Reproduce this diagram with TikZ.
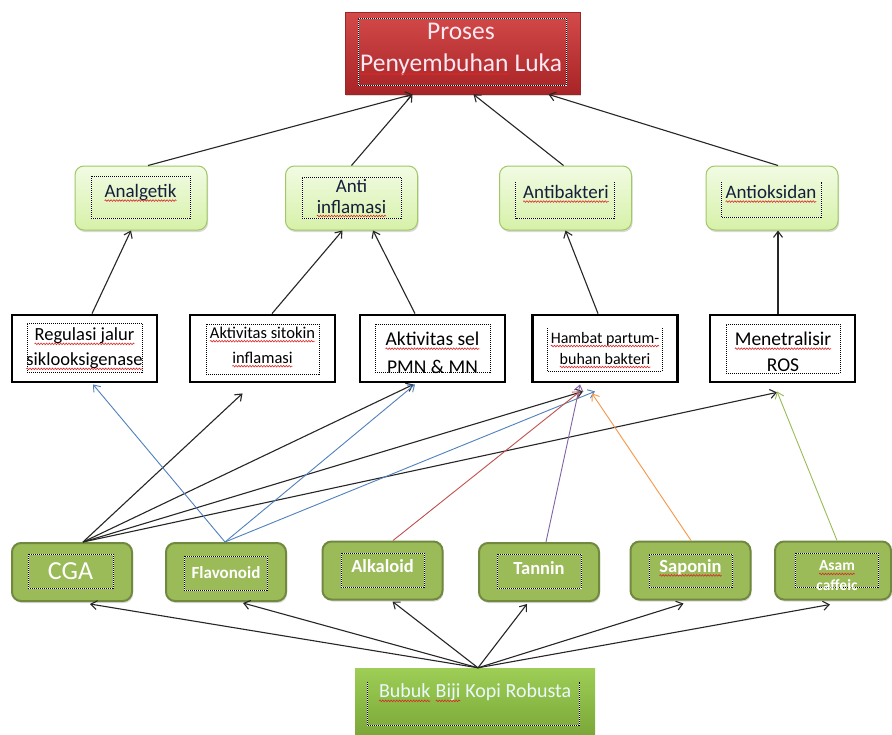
\documentclass[tikz,border=0pt]{standalone}
\usepackage{fontspec}
\setmainfont{Carlito}
\usetikzlibrary{arrows.meta,shadows,decorations.pathmorphing}
\definecolor{sqred}{RGB}{220,40,40}
\newcommand\sq[1]{\tikz[baseline=(w.base),x=1pt,y=1pt]{\node[inner sep=0pt,outer sep=0pt,anchor=base west] (w) {#1};\draw[sqred,line width=0.6pt,decorate,decoration={snake,amplitude=0.8pt,segment length=2.8pt}] ([yshift=-3pt]w.base west) -- ([yshift=-3pt]w.base east);}}
\definecolor{redtop}{RGB}{212,74,74}
\definecolor{redbot}{RGB}{168,36,38}
\definecolor{redline}{RGB}{150,40,40}
\definecolor{redtext}{RGB}{250,232,242}
\definecolor{lgtop}{RGB}{242,251,228}
\definecolor{lgbot}{RGB}{214,241,168}
\definecolor{lgline}{RGB}{160,200,100}
\definecolor{navy}{RGB}{20,30,60}
\definecolor{olfill}{RGB}{155,187,89}
\definecolor{olline}{RGB}{113,137,63}
\definecolor{butop}{RGB}{158,206,86}
\definecolor{bubot}{RGB}{118,162,52}
\definecolor{cblue}{RGB}{79,129,189}
\definecolor{cred}{RGB}{192,80,77}
\definecolor{cpurple}{RGB}{128,100,162}
\definecolor{corange}{RGB}{247,150,70}
\definecolor{cgreen}{RGB}{155,187,89}
\begin{document}
\begin{tikzpicture}[x=1pt,y=-1pt,
  >={Straight Barb[length=6pt,width=9pt]},
  softshadow/.style={drop shadow={shadow xshift=1pt,shadow yshift=-2pt,opacity=0.3}},
  redbox/.style={draw=redline,line width=0.8pt,top color=redtop,bottom color=redbot,minimum width=235,minimum height=82,inner sep=0pt,softshadow},
  lgbox/.style={draw=lgline,line width=1pt,rounded corners=9pt,top color=lgtop,bottom color=lgbot,minimum width=132,minimum height=64,inner sep=0pt,softshadow},
  bkbox/.style={draw=black,line width=2.8pt,fill=white,minimum width=145,minimum height=67,inner sep=0pt},
  olbox/.style={draw=olline,line width=2pt,rounded corners=9pt,fill=olfill,minimum width=120,minimum height=58,inner sep=0pt,softshadow},
  bubox/.style={top color=butop,bottom color=bubot,minimum width=240,minimum height=76,inner sep=0pt},
  dotbox/.style={draw=black,line width=1pt,dash pattern=on 1pt off 1pt,preaction={draw=white,solid,line width=1pt},inner sep=0pt},
  ubox/.style={draw=none,inner sep=0pt},
  dotline/.style={black,line width=1pt,dash pattern=on 1pt off 1pt,preaction={draw=white,solid,line width=1pt}},
  txt/.style={align=center,inner sep=0pt},
  gtxt/.style={txt,text=navy,font=\fontsize{19}{21}\selectfont},
  btxt/.style={txt,text=black},
  wtxt/.style={txt,text=white,font=\bfseries\fontsize{18.5}{20}\selectfont},
  arr/.style={->,line width=1.1pt,black!85},
  carr/.style={->,line width=0.9pt},
]
\fill[white] (0,0) rectangle (892,734);
\useasboundingbox (0,0) rectangle (892,734);

% top
\node[redbox] (top) at (462.5,53) {};
\node[dotbox,minimum width=208,minimum height=67] (topD) at (462,51.5) {};
\node[txt,text=redtext,font=\fontsize{25.5}{32}\selectfont] (topT) at (461,49) {Proses\\\sq{Penyembuhan} Luka};

% second row
\node[lgbox] (ana) at (141,198) {};
\node[dotbox,minimum width=99,minimum height=42] (anaD) at (140.5,197) {};
\node[gtxt] (anaT) at (140.5,193) {\sq{Analgetik}};

\node[lgbox] (anti) at (351.5,198) {};
\node[dotbox,minimum width=99,minimum height=41] (antiD) at (351.5,197.5) {};
\node[gtxt] (antiT) at (351.5,198) {Anti\\\sq{inflamasi}};

\node[lgbox] (antib) at (565.5,198) {};
\node[ubox,minimum width=98,minimum height=36] (antibD) at (565,200) {};
\draw[dotline] (antibD.north west) |- (antibD.south east) -- (antibD.north east);
\node[gtxt] (antibT) at (566,194) {\sq{Antibakteri}};

\node[lgbox] (antiox) at (772,198) {};
\node[ubox,minimum width=99,minimum height=35] (antioxD) at (771.5,199.5) {};
\draw[dotline] (antioxD.north west) |- (antioxD.south east) -- (antioxD.north east);
\node[gtxt] (antioxT) at (771,194) {\sq{Antioksidan}};

% third row
\node[bkbox] (reg) at (84.5,348.5) {};
\node[dotbox,minimum width=115,minimum height=49] (regD) at (84.5,347.5) {};
\node[btxt,font=\fontsize{18.5}{25}\selectfont] (regT) at (84.5,349) {\sq{Regulasi jalur}\\\sq{siklooksigenase}};

\node[bkbox] (sit) at (262.5,348.5) {};
\node[dotbox,minimum width=113,minimum height=50] (sitD) at (262.5,349) {};
\node[btxt,font=\fontsize{16.5}{25}\selectfont] (sitT) at (262.5,347) {\sq{Aktivitas sitokin}\\\sq{inflamasi}};

\node[bkbox] (sel) at (432.5,348.5) {};
\node[dotbox,minimum width=115,minimum height=48] (selD) at (432.5,348) {};
\node[btxt,font=\fontsize{19.5}{28}\selectfont] (selT) at (432.5,353) {\sq{Aktivitas sel}\\PMN \& MN};

\node[bkbox] (ham) at (605,348.5) {};
\node[ubox,minimum width=114,minimum height=43] (hamD) at (605,349.5) {};
\draw[dotline] (hamD.north west) |- (hamD.south east) -- (hamD.north east);
\node[btxt,font=\fontsize{16}{21}\selectfont] (hamT) at (605,350) {\sq{Hambat partum-}\\\sq{buhan bakteri}};

\node[bkbox] (men) at (782.5,348.5) {};
\node[dotbox,minimum width=114,minimum height=49] (menD) at (783,348.5) {};
\node[btxt,font=\fontsize{19.5}{26}\selectfont] (menT) at (783,352) {\sq{Menetralisir}\\ROS};

% fourth row
\node[olbox] (cga) at (72,572) {};
\node[dotbox,minimum width=85,minimum height=34] (cgaD) at (70.5,571) {};
\node[txt,text=white,font=\fontsize{26}{28}\selectfont] (cgaT) at (70.5,571) {CGA};

\node[olbox] (fla) at (226,572) {};
\node[dotbox,minimum width=83,minimum height=34] (flaD) at (225.5,573) {};
\node[wtxt,font=\bfseries\fontsize{17}{18}\selectfont] (flaT) at (226,573) {Flavonoid};

\node[olbox] (alk) at (382.5,570.5) {};
\node[dotbox,minimum width=83,minimum height=34] (alkD) at (382.5,570) {};
\node[wtxt] (alkT) at (382.5,566) {Alkaloid};

\node[olbox] (tan) at (539,572) {};
\node[dotbox,minimum width=84,minimum height=34] (tanD) at (539,571) {};
\node[wtxt] (tanT) at (539,568) {Tannin};

\node[olbox] (sap) at (690.5,570.5) {};
\node[dotbox,minimum width=83,minimum height=33] (sapD) at (690.5,570.5) {};
\node[wtxt] (sapT) at (690.5,568) {\sq{Saponin}};

\node[olbox,minimum width=116] (asam) at (833,570.5) {};
\node[dotbox,minimum width=83,minimum height=34] (asamD) at (836.5,570) {};
\node[wtxt,font=\bfseries\fontsize{15.5}{20}\selectfont] (asamT) at (837,576) {\sq{Asam}\\caffeic};

% bottom
\node[bubox] (bub) at (475,706) {};
\node[ubox,minimum width=211,minimum height=43] (bubD) at (473.5,703.5) {};
\draw[dotline] (bubD.north west) |- (bubD.south east) -- (bubD.north east);
\node[txt,text=white!92!cyan,font=\fontsize{20}{22}\selectfont] (bubT) at (475,693) {\sq{Bubuk} \sq{Biji} Kopi Robusta};

% second row -> top
\draw[arr] ([xshift=7pt]ana.north) -- ([xshift=-50pt]top.south);
\draw[arr] (anti.north) -- ([xshift=-50pt]top.south);
\draw[arr] ([xshift=-2pt]antib.north) -- ([xshift=11pt]top.south);
\draw[arr] ([xshift=6pt]antiox.north) -- ([xshift=86pt]top.south);

% third row -> second row
\draw[arr] ([xshift=7.5pt]reg.north) -- ([xshift=-10pt]ana.south);
\draw[arr] ([xshift=9.5pt]sit.north) -- ([xshift=-9pt]anti.south);
\draw[arr] ([xshift=-17.5pt]sel.north) -- ([xshift=21.5pt]anti.south);
\draw[arr] ([xshift=-7pt]ham.north) -- ([xshift=0pt]antib.south);
\draw[arr] ([xshift=-4.5pt]men.north) -- ([xshift=6pt]antiox.south);

% fourth row -> third row
\draw[arr] ([xshift=11pt]cga.north) -- ([xshift=-20pt,yshift=-10pt]sit.south);
\draw[arr] ([xshift=11pt]cga.north) -- ([xshift=-19pt,yshift=-1pt]sel.south);
\draw[arr] ([xshift=11pt]cga.north) -- ([xshift=-22pt,yshift=-8pt]ham.south);
\draw[arr] ([xshift=11pt]cga.north) -- ([xshift=-5.5pt,yshift=-9pt]men.south);
\draw[carr,cblue] ([xshift=-1pt]fla.north) -- ([xshift=8.5pt,yshift=-1pt]reg.south);
\draw[carr,cblue] ([xshift=-1pt]fla.north) -- ([xshift=-17.5pt,yshift=-1pt]sel.south);
\draw[carr,cblue] ([xshift=-1pt]fla.north) -- ([xshift=-10pt,yshift=-8pt]ham.south);
\draw[carr,cred] ([xshift=10.5pt]alk.north) -- ([xshift=-25pt,yshift=-8pt]ham.south);
\draw[carr,cpurple] ([xshift=7pt]tan.north) -- ([xshift=-25pt,yshift=-1pt]ham.south);
\draw[carr,corange] ([xshift=0.5pt]sap.north) -- ([xshift=-13pt,yshift=-10pt]ham.south);
\draw[carr,cgreen] ([xshift=4pt]asam.north) -- ([xshift=-5.5pt,yshift=-8pt]men.south);

% bottom -> fourth row
\draw[arr] ([xshift=3pt]bub.north) -- ([xshift=18pt,yshift=-2pt]cga.south);
\draw[arr] ([xshift=3pt]bub.north) -- ([xshift=17pt,yshift=-1pt]fla.south);
\draw[arr] ([xshift=3pt]bub.north) -- ([xshift=10pt,yshift=-1pt]alk.south);
\draw[arr] ([xshift=3pt]bub.north) -- ([xshift=-12pt,yshift=-2pt]tan.south);
\draw[arr] ([xshift=3pt]bub.north) -- ([xshift=-7pt,yshift=-3pt]sap.south);
\draw[arr] ([xshift=3pt]bub.north) -- ([xshift=-3pt,yshift=-4pt]asam.south);
\end{tikzpicture}
\end{document}
